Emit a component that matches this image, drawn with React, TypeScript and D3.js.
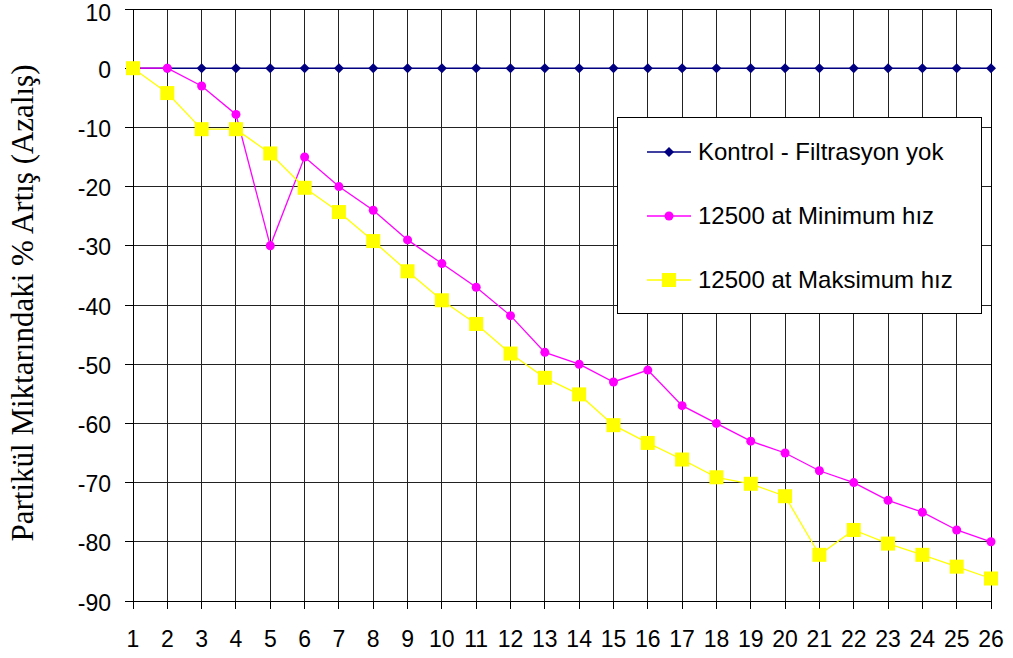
import React from "react";
import * as d3 from "d3";

const categories = d3.range(1, 27);
const kontrol = categories.map(() => 0);
const minHiz = [0, 0, -3, -7.8, -30, -15, -20, -24, -29, -33, -37, -41.8, -48, -50, -53, -51, -57, -60, -63, -65, -68, -70, -73, -75, -78, -80];
const maksHiz = [0, -4.2, -10.3, -10.3, -14.4, -20.2, -24.3, -29.2, -34.3, -39.2, -43.2, -48.2, -52.3, -55.1, -60.3, -63.3, -66.1, -69.1, -70.2, -72.3, -82.2, -78, -80.3, -82.2, -84.2, -86.2];
const yTicks = [10, 0, -10, -20, -30, -40, -50, -60, -70, -80, -90];
const seriesNames = ["Kontrol - Filtrasyon yok", "12500 at Minimum hız", "12500 at Maksimum hız"];
const yTitle = "Partikül Miktarındaki % Artış (Azalış)";

const W = 1013, H = 658;
const L = 133, R = 991, T = 9, B = 601;

export default function App() {
  const x = d3.scaleLinear().domain([1, 26]).range([L, R]);
  const y = d3.scaleLinear().domain([-90, 10]).range([B, T]);
  const line = d3.line<number>().x((_, i) => x(categories[i])).y((d) => y(d));
  const font = "Arial, 'Liberation Sans', sans-serif";
  const navy = "#000080", mag = "#FF00FF", yel = "#FFFF00";
  const diamond = (cx: number, cy: number, r = 5) => `M${cx},${cy - r}L${cx + r},${cy}L${cx},${cy + r}L${cx - r},${cy}Z`;
  const legY = [152, 216, 280];
  return (
    <svg width={W} height={H} style={{ position: "absolute", left: 0, top: 0, background: "#fff" }}>
      {/* grid */}
      {yTicks.map((t) => (
        <line key={"gy" + t} x1={L} x2={R} y1={y(t)} y2={y(t)} stroke="#222" strokeWidth={1} shapeRendering="crispEdges" />
      ))}
      {categories.map((c) => (
        <line key={"gx" + c} x1={x(c)} x2={x(c)} y1={T} y2={B} stroke="#222" strokeWidth={1} shapeRendering="crispEdges" />
      ))}
      {/* ticks */}
      {yTicks.map((t) => (
        <line key={"ty" + t} x1={L - 8} x2={L} y1={y(t)} y2={y(t)} stroke="#000" shapeRendering="crispEdges" />
      ))}
      {categories.map((c) => (
        <line key={"tx" + c} x1={x(c)} x2={x(c)} y1={B} y2={B + 8} stroke="#000" shapeRendering="crispEdges" />
      ))}
      <rect x={L} y={T} width={R - L} height={B - T} fill="none" stroke="#000" strokeWidth={1} shapeRendering="crispEdges" />
      {/* tick labels */}
      {yTicks.map((t) => (
        <text key={"ly" + t} x={111} y={Math.max(y(t), 11)} dy="0.42em" textAnchor="end" fontFamily={font} fontSize={23} fill="#000">{t}</text>
      ))}
      {categories.map((c) => (
        <text key={"lx" + c} x={x(c)} y={647} textAnchor="middle" fontFamily={font} fontSize={23} fill="#000">{c}</text>
      ))}
      {/* y title */}
      <text transform={`translate(33,${303}) rotate(-90)`} textAnchor="middle" fontFamily="'Times New Roman', 'Liberation Serif', serif" fontSize={31} fill="#000">{yTitle}</text>
      {/* series */}
      <path d={line(kontrol) || ""} fill="none" stroke={navy} strokeWidth={1.5} />
      {kontrol.map((v, i) => <path key={"k" + i} d={diamond(x(categories[i]), y(v))} fill={navy} />)}
      <path d={line(minHiz) || ""} fill="none" stroke={mag} strokeWidth={1.3} />
      {minHiz.map((v, i) => <circle key={"m" + i} cx={x(categories[i])} cy={y(v)} r={4.5} fill={mag} />)}
      <path d={line(maksHiz) || ""} fill="none" stroke={yel} strokeWidth={1.3} />
      {maksHiz.map((v, i) => <rect key={"y" + i} x={x(categories[i]) - 7} y={y(v) - 7} width={14} height={14} fill={yel} />)}
      {/* legend */}
      <rect x={617} y={117} width={364} height={196} fill="#fff" stroke="#000" strokeWidth={1} shapeRendering="crispEdges" />
      <line x1={647} x2={691} y1={legY[0]} y2={legY[0]} stroke={navy} strokeWidth={1.5} />
      <path d={diamond(669, legY[0])} fill={navy} />
      <line x1={647} x2={691} y1={legY[1]} y2={legY[1]} stroke={mag} strokeWidth={1.3} />
      <circle cx={669} cy={legY[1]} r={4.5} fill={mag} />
      <line x1={647} x2={691} y1={legY[2]} y2={legY[2]} stroke={yel} strokeWidth={1.3} />
      <rect x={662} y={legY[2] - 7} width={14} height={14} fill={yel} />
      {seriesNames.map((s, i) => (
        <text key={s} x={698} y={legY[i]} dy="0.35em" fontFamily={font} fontSize={24} fill="#000">{s}</text>
      ))}
    </svg>
  );
}
